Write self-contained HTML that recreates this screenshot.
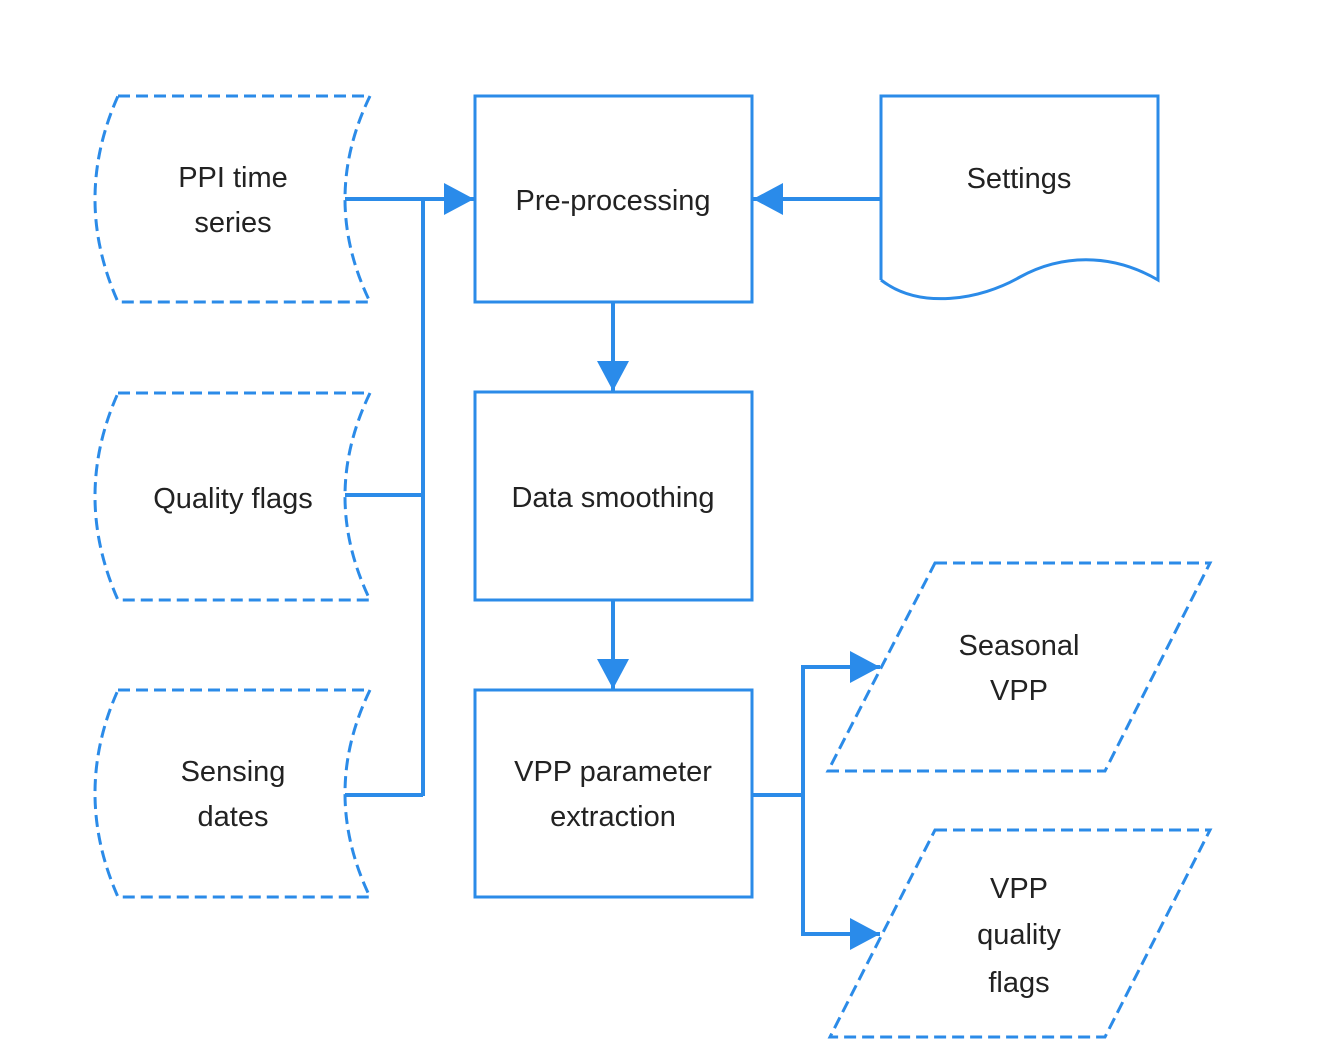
<!DOCTYPE html>
<html><head><meta charset="utf-8"><style>
html,body{margin:0;padding:0;background:#fff;}
svg{display:block;}
text{font-family:"Liberation Sans",sans-serif;font-size:29px;fill:#222;text-anchor:middle;}
</style></head><body>
<svg width="1324" height="1060" viewBox="0 0 1324 1060" xmlns="http://www.w3.org/2000/svg">
<defs>
<marker id="a" markerWidth="30" markerHeight="32" refX="10" refY="5" orient="auto" markerUnits="userSpaceOnUse" viewBox="0 0 10 10" preserveAspectRatio="none">
<path d="M0,0 L10,5 L0,10 z" fill="#2a8bea"/>
</marker>
</defs>
<g fill="none" stroke="#2b8be8" stroke-width="3">
<g stroke-dasharray="12,6">
<path d="M118,96 L370,96 Q320,199 370,302 L118,302 Q72,199 118,96 Z"/>
<path d="M118,393 L370,393 Q320,496 370,600 L118,600 Q72,496 118,393 Z"/>
<path d="M118,690 L370,690 Q320,793 370,897 L118,897 Q72,793 118,690 Z"/>
<path d="M935,563 L1210,563 L1105,771 L828,771 Z"/>
<path d="M935,830 L1210,830 L1105,1037 L830,1037 Z"/>
</g>
<rect x="475" y="96" width="277" height="206"/>
<rect x="475" y="392" width="277" height="208"/>
<rect x="475" y="690" width="277" height="207"/>
<path d="M881,280 L881,96 L1158,96 L1158,280 C1110,252 1060,255 1020,277 C980,300 920,310 881,280"/>
<g stroke-width="4">
<line x1="345" y1="199" x2="423" y2="199"/>
<line x1="423" y1="197" x2="423" y2="796"/>
<line x1="345" y1="495" x2="423" y2="495"/>
<line x1="345" y1="795" x2="423" y2="795"/>
<line x1="423" y1="199" x2="474" y2="199" marker-end="url(#a)"/>
<line x1="881" y1="199" x2="753" y2="199" marker-end="url(#a)"/>
<line x1="613" y1="302" x2="613" y2="391" marker-end="url(#a)"/>
<line x1="613" y1="600" x2="613" y2="689" marker-end="url(#a)"/>
<line x1="752" y1="795" x2="803" y2="795"/>
<line x1="803" y1="665" x2="803" y2="936"/>
<line x1="801" y1="667" x2="880" y2="667" marker-end="url(#a)"/>
<line x1="801" y1="934" x2="880" y2="934" marker-end="url(#a)"/>
</g>
</g>
<text x="233" y="187">PPI time</text>
<text x="233" y="232">series</text>
<text x="233" y="508">Quality flags</text>
<text x="233" y="781">Sensing</text>
<text x="233" y="826">dates</text>
<text x="613" y="210">Pre-processing</text>
<text x="613" y="507">Data smoothing</text>
<text x="613" y="781">VPP parameter</text>
<text x="613" y="826">extraction</text>
<text x="1019" y="188">Settings</text>
<text x="1019" y="655">Seasonal</text>
<text x="1019" y="700">VPP</text>
<text x="1019" y="898">VPP</text>
<text x="1019" y="944">quality</text>
<text x="1019" y="992">flags</text>
</svg>
</body></html>
